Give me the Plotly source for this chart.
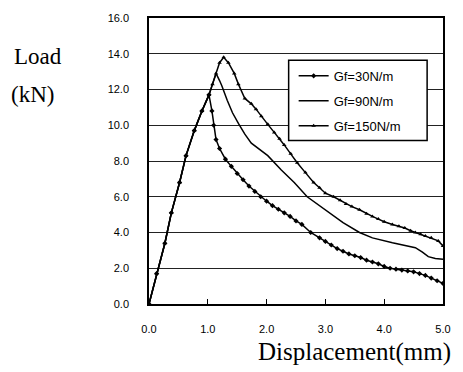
import plotly.graph_objects as go

rise_x = [0.0, 0.13, 0.27, 0.38, 0.52, 0.63, 0.77, 0.90]
rise_y = [0.0, 1.7, 3.4, 5.1, 6.8, 8.3, 9.7, 10.8]

gf30_x = rise_x + [1.02, 1.07, 1.10, 1.14, 1.20, 1.30, 1.40, 1.50, 1.60, 1.70, 1.80, 1.90,
                   2.00, 2.10, 2.20, 2.30, 2.40, 2.50, 2.60, 2.75, 2.90, 3.00, 3.10, 3.20,
                   3.30, 3.40, 3.50, 3.60, 3.70, 3.80, 3.90, 4.00, 4.10, 4.20, 4.30, 4.40,
                   4.50, 4.60, 4.70, 4.80, 4.90, 5.00]
gf30_y = rise_y + [11.7, 10.8, 10.0, 9.2, 8.7, 8.1, 7.7, 7.3, 6.95, 6.6, 6.3, 6.0,
                   5.75, 5.5, 5.3, 5.1, 4.9, 4.65, 4.45, 4.0, 3.7, 3.5, 3.3, 3.1,
                   2.95, 2.8, 2.7, 2.6, 2.45, 2.35, 2.25, 2.1, 2.0, 1.95, 1.9, 1.85,
                   1.8, 1.7, 1.6, 1.45, 1.3, 1.15]

gf90_x = rise_x + [1.02, 1.08, 1.14, 1.20, 1.24, 1.33, 1.42, 1.52, 1.63, 1.74, 1.90, 2.02,
                   2.25, 2.47, 2.69, 2.90, 3.03, 3.30, 3.58, 3.80, 4.14, 4.40, 4.53, 4.65,
                   4.75, 4.87, 5.00]
gf90_y = rise_y + [11.7, 12.3, 12.9, 12.5, 12.2, 11.4, 10.7, 10.1, 9.5, 9.0, 8.6, 8.3,
                   7.5, 6.8, 6.0, 5.5, 5.2, 4.55, 4.0, 3.7, 3.43, 3.25, 3.15, 2.9,
                   2.65, 2.55, 2.5]

gf150_x = rise_x + [1.02, 1.08, 1.14, 1.20, 1.27, 1.35, 1.45, 1.52, 1.63, 1.74, 1.82, 1.91,
                    2.02, 2.13, 2.22, 2.30, 2.41, 2.52, 2.66, 2.80, 2.90, 3.00, 3.14, 3.25,
                    3.35, 3.45, 3.58, 3.70, 3.80, 3.90, 4.00, 4.14, 4.25, 4.35, 4.45, 4.53,
                    4.62, 4.70, 4.80, 4.92, 5.00]
gf150_y = rise_y + [11.7, 12.3, 12.9, 13.5, 13.8, 13.5, 12.9, 12.3, 11.5, 11.2, 10.9, 10.5,
                    10.05, 9.6, 9.25, 8.9, 8.4, 7.9, 7.35, 6.8, 6.5, 6.2, 6.0, 5.8,
                    5.6, 5.45, 5.27, 5.05, 4.9, 4.75, 4.6, 4.45, 4.35, 4.25, 4.1, 4.0,
                    3.9, 3.8, 3.7, 3.53, 3.25]

names = ["Gf=30N/m", "Gf=90N/m", "Gf=150N/m"]
y_ticks = [0, 2, 4, 6, 8, 10, 12, 14, 16]
x_ticks = [0, 1, 2, 3, 4, 5]

fig = go.Figure()
fig.add_trace(go.Scatter(x=gf30_x, y=gf30_y, name=names[0], mode="lines+markers",
                         line=dict(color="black", width=1.5),
                         marker=dict(symbol="diamond", size=4, color="black"),
                         legendgroup="a"))
fig.add_trace(go.Scatter(x=gf90_x, y=gf90_y, name=names[1], mode="lines",
                         line=dict(color="black", width=1.5), legendgroup="b"))
fig.add_trace(go.Scatter(x=gf150_x, y=gf150_y, name=names[2], mode="lines+markers",
                         line=dict(color="black", width=1.5),
                         marker=dict(symbol="triangle-up", size=4, color="black"),
                         legendgroup="c"))

fig.update_layout(
    width=463, height=372,
    margin=dict(l=149, r=15, t=14, b=68),
    paper_bgcolor="white", plot_bgcolor="white",
    font=dict(family="Liberation Sans, Arial", size=11, color="black"),
    showlegend=True,
    legend=dict(x=0.492, y=0.85, xanchor="left", yanchor="top",
                borderwidth=0, bgcolor="rgba(0,0,0,0)",
                font=dict(size=13), tracegroupgap=5, itemwidth=30),
    xaxis=dict(range=[0, 5], tickvals=x_ticks, ticktext=[f"{v:.1f}" for v in x_ticks],
               showgrid=False, zeroline=False, showline=True, linecolor="black",
               linewidth=1.5, mirror=True, ticks="inside", ticklen=5, tickcolor="black",
               ticklabelstandoff=14),
    yaxis=dict(range=[0, 16], tickvals=y_ticks, ticktext=[f"{v:.1f}" for v in y_ticks],
               showgrid=True, gridcolor="#222222", gridwidth=1, zeroline=False,
               showline=True, linecolor="black", linewidth=1.5, mirror=True,
               ticks="", ticklabelstandoff=16),
)

# legend frame (white box with black border)
fig.add_shape(type="rect", xref="paper", yref="paper", x0=0.475, x1=0.946, y0=0.572, y1=0.852,
              line=dict(color="black", width=1.5), fillcolor="white", layer="above")

serif = "Liberation Serif, Times New Roman, serif"
fig.add_annotation(text="Load", xref="paper", yref="paper", x=-0.378, y=0.866,
                   xanchor="center", yanchor="middle", showarrow=False,
                   font=dict(family=serif, size=23))
fig.add_annotation(text="(kN)", xref="paper", yref="paper", x=-0.395, y=0.731,
                   xanchor="center", yanchor="middle", showarrow=False,
                   font=dict(family=serif, size=23))
fig.add_annotation(text="Displacement(mm)", xref="paper", yref="paper", x=1.034, y=-0.169,
                   xanchor="right", yanchor="middle", showarrow=False,
                   font=dict(family=serif, size=25))

fig.write_html("out.html")
